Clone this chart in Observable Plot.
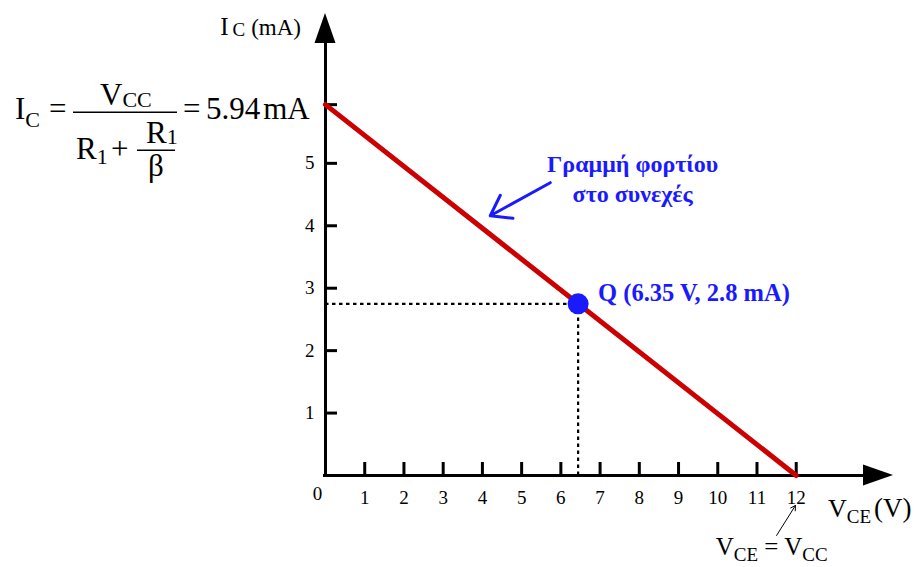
<!DOCTYPE html>
<html><head><meta charset="utf-8">
<script src="https://cdn.jsdelivr.net/npm/d3@7"></script>
<script src="https://cdn.jsdelivr.net/npm/@observablehq/plot@0.6"></script>
<style>body{margin:0;background:#fff} #chart{width:917px;height:567px}</style>
</head><body><div id="chart"></div>
<script>
// ---- data ----
const xTicks = [1,2,3,4,5,6,7,8,9,10,11,12];
const xTickLabels = ["1","2","3","4","5","6","7","8","9","10","11","12"];
const yTicks = [1,2,3,4,5];
const yTickLabels = ["1","2","3","4","5"];
const icSat = [5.94];             // mA, I_C at V_CE = 0
const loadLine = [{vce:0, ic:5.94},{vce:12, ic:0}];
const qPoint = [{vce:6.44, ic:2.75, label:"Q (6.35 V, 2.8 mA)"}];
const loadLabel = ["Γραμμή φορτίου", "στο συνεχές"];

// ---- layout ----
const W=917, H=567, mL=325, mR=24, mT=13, mB=92;
const xMax=14.48, yMax=7.40;
const kx = xMax/(W-mL-mR), ky = yMax/(H-mT-mB);   // data units per pixel
const serif = "Liberation Serif";
const blue = "#1a1aff", red = "#cc0000";

const plot = Plot.plot({
  width: W, height: H,
  marginLeft: mL, marginRight: mR, marginTop: mT, marginBottom: mB,
  x: {domain:[0,xMax], axis:null},
  y: {domain:[0,yMax], axis:null},
  style: {fontFamily: serif, background:"#fff", overflow:"visible"},
  marks: [
    // dotted guides
    Plot.ruleY(qPoint, {y:"ic", x1:0, x2:"vce", stroke:"#000", strokeWidth:2.2, strokeDasharray:"3.5,3.5"}),
    Plot.ruleX(qPoint, {x:"vce", y1:0, y2:"ic", stroke:"#000", strokeWidth:2.2, strokeDasharray:"3.5,3.5"}),
    // axes
    Plot.ruleY([0], {x1:-2*kx, x2:xMax-28*kx, stroke:"#000", strokeWidth:3}),
    Plot.ruleX([0], {y1:-1.5*ky, y2:yMax-28*ky, stroke:"#000", strokeWidth:3}),
    Plot.ruleX(xTicks, {x:d=>d, y1:0, y2:13*ky, stroke:"#000", strokeWidth:3}),
    Plot.ruleY(yTicks.concat(icSat), {y:d=>d, x1:0, x2:12*kx, stroke:"#000", strokeWidth:3}),
    Plot.text(xTicks, {x:d=>d, y:0, text:(d,i)=>xTickLabels[i], dy:22, fontSize:19, fontFamily:serif, fill:"#000"}),
    Plot.text(["0"], {x:0, y:0, text:d=>d, dx:-8, dy:18, fontSize:19, fontFamily:serif, fill:"#000"}),
    Plot.text(yTicks, {x:0, y:d=>d, text:(d,i)=>yTickLabels[i], dx:-11, textAnchor:"end", fontSize:19, fontFamily:serif, fill:"#000"}),
    // load line
    Plot.line(loadLine, {x:"vce", y:"ic", stroke:red, strokeWidth:5}),
    // Q point
    Plot.dot(qPoint, {x:"vce", y:"ic", r:10.5, fill:blue, stroke:null}),
    Plot.text(qPoint, {x:"vce", y:"ic", text:"label", dx:20, dy:-11, textAnchor:"start", fontSize:24.5, fontWeight:"bold", fontFamily:serif, fill:blue}),
    // load line label + arrow
    Plot.text([loadLabel.join("\n")], {x:7.83, y:4.77, text:d=>d, fontSize:24, fontWeight:"bold", fontFamily:serif, fill:blue, lineHeight:1.25}),
    Plot.arrow([{x1:5.73, y1:4.69, x2:4.20, y2:4.16}], {x1:"x1", y1:"y1", x2:"x2", y2:"y2", stroke:blue, strokeWidth:3, headLength:16, headAngle:70}),
    // V_CE = V_CC pointer
    Plot.arrow([{x1:11.50, y1:-0.96, x2:11.98, y2:-0.48}], {x1:"x1", y1:"y1", x2:"x2", y2:"y2", stroke:"#000", strokeWidth:1, headLength:8, headAngle:60})
  ]
});
document.getElementById("chart").appendChild(plot);

// ---- decorations using the plot's scales ----
const svg = d3.select(plot);
const X = v => plot.scale("x").apply(v), Y = v => plot.scale("y").apply(v);
// arrowheads
svg.append("path").attr("fill","#000")
  .attr("d", `M${X(xMax)},${Y(0)}L${X(xMax)-30},${Y(0)-10.5}L${X(xMax)-30},${Y(0)+10.5}Z`);
svg.append("path").attr("fill","#000")
  .attr("d", `M${X(0)},${Y(yMax)}L${X(0)-10.5},${Y(yMax)+30}L${X(0)+10.5},${Y(yMax)+30}Z`);

// parts: [text, size, baselineShift, dx]
function rich(x, y, parts, anchor="start") {
  const t = svg.append("text").attr("x", x).attr("y", y).attr("font-family", serif)
    .attr("text-anchor", anchor).attr("fill", "#000");
  let shift = 0;
  for (const [s, size, sh=0, dx=0] of parts) {
    t.append("tspan").attr("dy", sh - shift).attr("dx", dx).attr("font-size", size).text(s);
    shift = sh;
  }
  return t;
}
function bar(x1, x2, y) {
  svg.append("line").attr("x1",x1).attr("x2",x2).attr("y1",y).attr("y2",y).attr("stroke","#000").attr("stroke-width",1.5);
}
// axis titles
rich(X(0)-24, Y(yMax)+22, [["I",25],["C",19,1,4],["(mA)",23,0,6]], "end");
rich(X(xMax)-65, Y(0)+42, [["V",26],["CE",19,6],["(V)",27,0,3]]);
rich(X(12)-80, Y(0)+80, [["V",25],["CE",19,6],[" = V",25],["CC",19,6]]);

// formula for I_C, aligned with the 5.94 mA tick
const base = Y(icSat[0]) + 15;
const fs = 31, ss = 22;
rich(15, base, [["I",fs],["C",ss,8]]);
rich(49, base, [["=",fs]]);
bar(73, 177, base-7);
rich(100, base-14, [["V",fs],["CC",ss,2]]);
rich(76, base+40, [["R",fs],["1",ss,5]]);
rich(111, base+40, [["+",fs]]);
bar(137, 175, base+31);
rich(146, base+24, [["R",fs],["1",ss,1]]);
rich(156, base+57, [["β",fs]], "middle");
rich(183, base, [["=",fs]]);
rich(206, base, [["5.94",fs],["mA",fs,0,3]]);
</script>
</body></html>
